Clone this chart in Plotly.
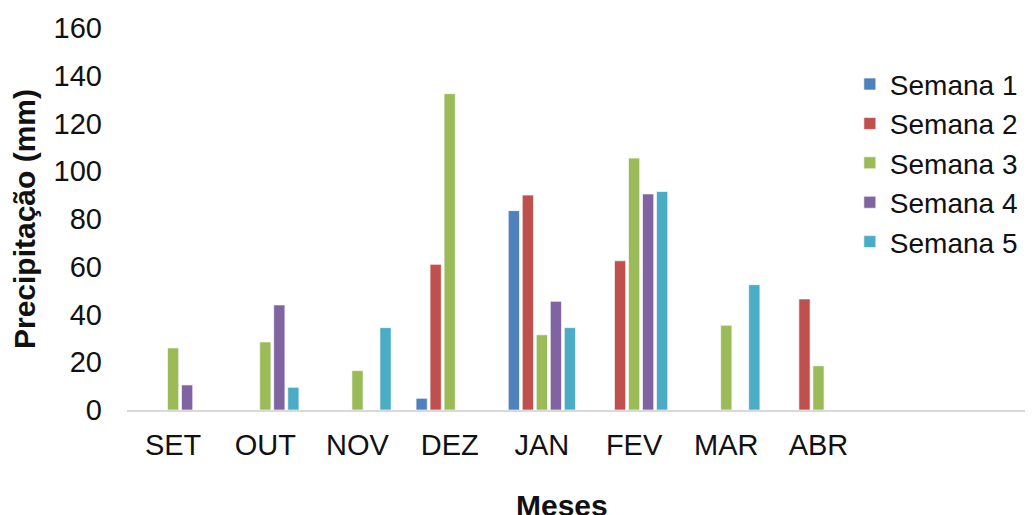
import plotly.graph_objects as go

months = ["SET", "OUT", "NOV", "DEZ", "JAN", "FEV", "MAR", "ABR"]
semana1 = [None, None, None, 4.9, 83.5, None, None, None]
semana2 = [None, None, None, 61.0, 90.0, 62.5, None, 46.5]
semana3 = [26.0, 28.5, 16.5, 132.5, 31.5, 105.5, 35.5, 18.5]
semana4 = [10.5, 44.0, None, None, 45.5, 90.5, None, None]
semana5 = [None, 9.5, 34.5, None, 34.5, 91.5, 52.5, None]

series = [
    ("Semana 1", semana1, "#4F81BD"),
    ("Semana 2", semana2, "#C0504D"),
    ("Semana 3", semana3, "#9BBB59"),
    ("Semana 4", semana4, "#8064A2"),
    ("Semana 5", semana5, "#4BACC6"),
]

xpos = list(range(len(months)))
font_family = "Liberation Sans, Arial, sans-serif"

fig = go.Figure()
for i, (name, vals, color) in enumerate(series):
    fig.add_trace(go.Bar(
        x=xpos, y=vals, name=name, legendgroup=name,
        marker=dict(color=color, line=dict(color="rgba(255,255,255,0.8)", width=0.8)),
    ))

W, H = 1025, 507
L, R, T, B = 119, 2, 20, 105
fig.update_layout(
    width=W, height=H,
    margin=dict(l=L, r=R, t=T, b=B),
    paper_bgcolor="white", plot_bgcolor="white",
    barmode="group", bargap=0.24, bargroupgap=0.2,
    font=dict(family=font_family, size=29, color="#111111"),
    legend=dict(
        x=0.7996, y=0.918, xanchor="left", yanchor="top",
        font=dict(size=28, color="#111111"),
        tracegroupgap=0, bgcolor="rgba(0,0,0,0)",
    ),
    xaxis=dict(
        tickmode="array", tickvals=xpos, ticktext=months,
        range=[-0.5, 9.305],
        showline=True, linecolor="#D9D9D9", linewidth=1.5,
        showgrid=False, zeroline=False, ticks="",
        ticklabelstandoff=8,
        tickfont=dict(size=29),
    ),
    yaxis=dict(
        range=[0, 160], tickvals=[0, 20, 40, 60, 80, 100, 120, 140, 160],
        showgrid=False, zeroline=False, showline=False, ticks="",
        ticklabelstandoff=24,
        tickfont=dict(size=29),
        title=dict(text="<b>Precipitação (mm)</b>", font=dict(size=30), standoff=10),
    ),
    annotations=[dict(
        text="<b>Meses</b>", xref="paper", yref="paper",
        x=(554 - L) / (W - L - R), y=(H - B - 497) / (H - B - T),
        xanchor="center", yanchor="middle",
        showarrow=False, font=dict(size=30, color="#111111"),
    )],
)

fig.write_html("out.html")
